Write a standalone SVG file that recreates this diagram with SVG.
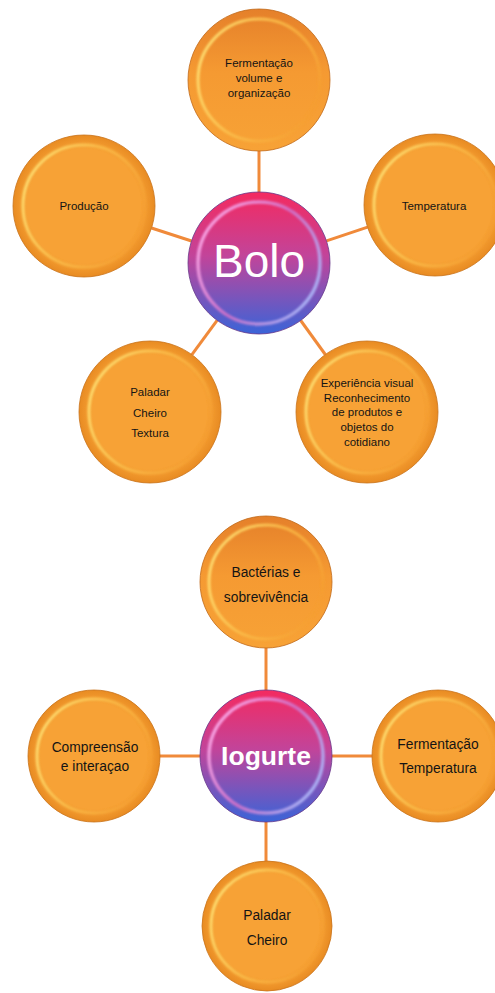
<svg xmlns="http://www.w3.org/2000/svg" width="495" height="993" viewBox="0 0 495 993">
<defs>
<radialGradient id="orFill" cx="0.5" cy="0.5" r="0.5">
<stop offset="0.8" stop-color="#f7a236"/>
<stop offset="1" stop-color="#e88b22"/>
</radialGradient>
<linearGradient id="orTopFill" x1="0" y1="0" x2="0" y2="1">
<stop offset="0" stop-color="#e5802a"/>
<stop offset="0.45" stop-color="#f59a32"/>
<stop offset="1" stop-color="#f7a236"/>
</linearGradient>
<linearGradient id="orRim" x1="0" y1="0.3" x2="1" y2="0.7">
<stop offset="0" stop-color="#ffe77a"/>
<stop offset="0.45" stop-color="#fbbf4c"/>
<stop offset="1" stop-color="#f59c30"/>
</linearGradient>
<linearGradient id="ctFill" x1="0" y1="0" x2="0" y2="1">
<stop offset="0" stop-color="#f42a60"/>
<stop offset="0.45" stop-color="#c2449a"/>
<stop offset="1" stop-color="#3a64d8"/>
</linearGradient>
<linearGradient id="ctRim" x1="0" y1="0.2" x2="1" y2="0.8">
<stop offset="0" stop-color="#ffb0ec"/>
<stop offset="0.5" stop-color="#d070c8"/>
<stop offset="1" stop-color="#a8c0ff"/>
</linearGradient>
<filter id="soft" x="-10%" y="-10%" width="120%" height="120%">
<feGaussianBlur stdDeviation="1.3"/>
</filter>
</defs>
<style>
.out{fill:url(#orFill);stroke:#c9741c;stroke-width:0.8}
.outTop{fill:url(#orTopFill);stroke:#c06a1a;stroke-width:0.8}
.rim{fill:none;stroke:url(#orRim);stroke-width:3;filter:url(#soft);opacity:0.85}
.cout{fill:url(#ctFill);stroke:#6a3a8a;stroke-width:0.8}
.crim{fill:none;stroke:url(#ctRim);stroke-width:3.5;filter:url(#soft);opacity:0.9}
.conn line{stroke:#f08a3a;stroke-width:3}
text{font-family:"Liberation Sans",Arial,sans-serif;fill:#141414;text-anchor:middle}
.s{font-size:11.5px}
.m{font-size:13.8px}
.big{font-size:46px;fill:#ffffff}
.bold{font-size:26.5px;font-weight:bold;fill:#ffffff}
</style>
<rect width="495" height="993" fill="#ffffff"/>

<g id="connectors" class="conn">
<line x1="259" y1="151" x2="259" y2="193"/>
<line x1="191.5" y1="241" x2="151.5" y2="228"/>
<line x1="326.5" y1="240.8" x2="367.6" y2="227.2"/>
<line x1="217.1" y1="320.3" x2="191.9" y2="354.7"/>
<line x1="300.7" y1="320.5" x2="325.3" y2="354.5"/>
<line x1="266" y1="647" x2="266" y2="691"/>
<line x1="159" y1="756" x2="201" y2="756"/>
<line x1="331" y1="756" x2="373" y2="756"/>
<line x1="266" y1="821" x2="266" y2="862"/>
</g>

<g id="n-fermentacao">
<circle class="outTop" cx="259" cy="80" r="71"/>
<circle class="rim" cx="259" cy="80" r="61"/>
<text class="s" x="259" y="67">Fermentação</text>
<text class="s" x="259" y="82">volume e</text>
<text class="s" x="259" y="97">organização</text>
</g>

<g id="n-producao">
<circle class="out" cx="84" cy="206" r="71"/>
<circle class="rim" cx="84" cy="206" r="61"/>
<text class="s" x="84" y="210">Produção</text>
</g>

<g id="n-temperatura">
<circle class="out" cx="435" cy="205" r="71"/>
<circle class="rim" cx="435" cy="205" r="61"/>
<text class="s" x="434" y="210">Temperatura</text>
</g>

<g id="n-paladar1">
<circle class="out" cx="150" cy="412" r="71"/>
<circle class="rim" cx="150" cy="412" r="61"/>
<text class="s" x="150" y="396">Paladar</text>
<text class="s" x="150" y="417">Cheiro</text>
<text class="s" x="150" y="437">Textura</text>
</g>

<g id="n-experiencia">
<circle class="out" cx="367" cy="412" r="71"/>
<circle class="rim" cx="367" cy="412" r="61"/>
<text class="s" x="367" y="387">Experiência visual</text>
<text class="s" x="367" y="402">Reconhecimento</text>
<text class="s" x="367" y="416">de produtos e</text>
<text class="s" x="367" y="431">objetos do</text>
<text class="s" x="367" y="446">cotidiano</text>
</g>

<g id="n-bolo">
<circle class="cout" cx="259" cy="263" r="71"/>
<circle class="crim" cx="259" cy="263" r="61"/>
<text class="big" x="259" y="277">Bolo</text>
</g>

<g id="n-bacterias">
<circle class="outTop" cx="266" cy="582" r="66"/>
<circle class="rim" cx="266" cy="582" r="57"/>
<text class="m" x="266" y="577">Bactérias e</text>
<text class="m" x="266" y="601.5">sobrevivência</text>
</g>

<g id="n-compreensao">
<circle class="out" cx="94" cy="756" r="66"/>
<circle class="rim" cx="94" cy="756" r="57"/>
<text class="m" x="95" y="751.5">Compreensão</text>
<text class="m" x="95" y="770.5">e interaçao</text>
</g>

<g id="n-fermentacao2">
<circle class="out" cx="438" cy="756" r="66"/>
<circle class="rim" cx="438" cy="756" r="57"/>
<text class="m" x="438" y="748.5">Fermentação</text>
<text class="m" x="438" y="772.5">Temperatura</text>
</g>

<g id="n-paladar2">
<circle class="out" cx="267" cy="926" r="65"/>
<circle class="rim" cx="267" cy="926" r="56"/>
<text class="m" x="267" y="919.5">Paladar</text>
<text class="m" x="267" y="944.5">Cheiro</text>
</g>

<g id="n-iogurte">
<circle class="cout" cx="266" cy="756" r="66"/>
<circle class="crim" cx="266" cy="756" r="57"/>
<text class="bold" x="266" y="765">Iogurte</text>
</g>
</svg>
